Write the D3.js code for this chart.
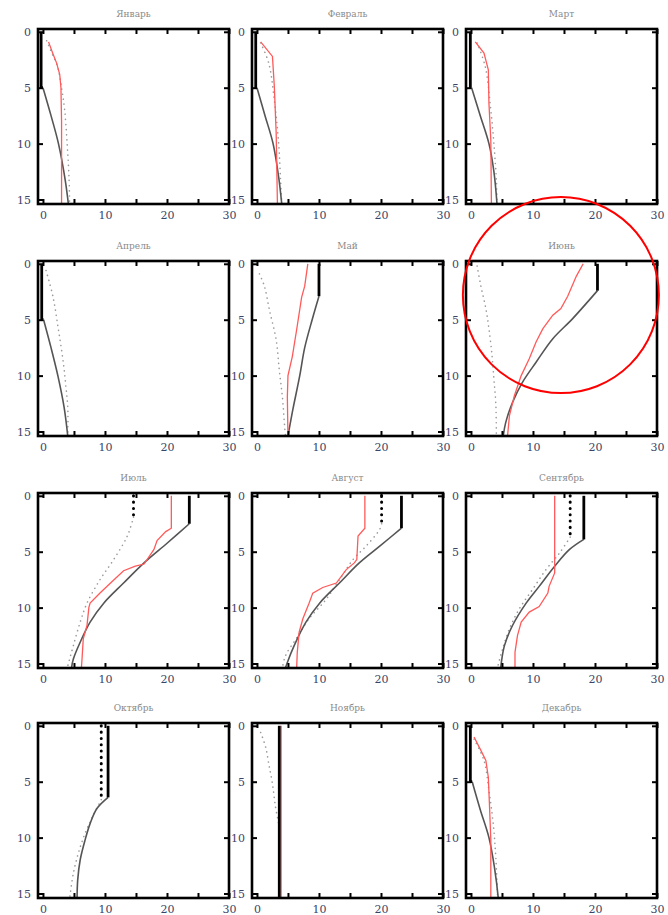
<!DOCTYPE html>
<html>
<head>
<meta charset="utf-8">
<script src="https://cdn.jsdelivr.net/npm/d3@7"></script>
<style>
  html, body { margin: 0; padding: 0; background: #fff; }
  svg { display: block; }
</style>
</head>
<body>
<svg id="chart" width="668" height="915"></svg>
<script>
// ---------------- DATA ----------------
const months = ["Январь","Февраль","Март","Апрель","Май","Июнь",
                "Июль","Август","Сентябрь","Октябрь","Ноябрь","Декабрь"];
const xTickValues = [0, 5, 10, 15, 20, 25, 30];
const xTickLabels = [0, 10, 20, 30];
const depthTickValues = [0, 5, 10, 15];

// model 1 (solid black): [temperature, depth]
const solidProfiles = [
  [[-0.3,0],[-0.3,5],[0,5],[1.3,7.5],[2.5,10],[3.6,13.3],[4.1,15.4]],
  [[-0.2,0],[-0.2,5],[0,5],[1.3,7.5],[2.6,10],[3.5,13],[4.0,15.4]],
  [[-0.1,0],[-0.1,5],[0.1,5],[1.5,7.5],[2.9,10],[3.7,12.5],[4.2,15.4]],
  [[-0.2,0],[-0.2,5],[0.1,5],[1.3,7.5],[2.4,10],[3.4,12.8],[4.0,15.4]],
  [[10,0],[10,2.9],[8.9,5],[7.7,7.5],[6.9,10],[5.8,13],[5.0,15.4]],
  [[20.4,0],[20.4,2.4],[16.4,4.9],[13.2,6.7],[10.5,8.8],[8.3,10.6],[6.7,12.4],[5.6,14.2],[5.2,15.4]],
  [[23.6,0],[23.6,2.5],[20.1,4.2],[16.3,6],[13,7.8],[9.8,9.6],[7.6,11.3],[6,13.1],[4.9,14.6],[4.6,15.4]],
  [[23.3,0],[23.3,2.9],[19.8,4.5],[16.5,6],[13.3,7.8],[10.1,9.6],[7.9,11.3],[6,13.4],[4.9,14.9],[4.6,15.4]],
  [[18.2,0],[18.2,3.9],[15.9,4.8],[13.5,6.3],[11,8.1],[8.9,9.6],[6.7,11.6],[5.4,13.4],[4.9,14.9],[4.8,15.4]],
  [[10.5,0],[10.5,6.4],[8.7,7.4],[7.6,8.75],[6.8,10.2],[6,12],[5.6,13.8],[5.5,15.4]],
  [[3.6,0],[3.6,15.4]],
  [[-0.1,0],[-0.1,5],[0.2,5],[1.5,7.5],[2.9,10],[3.8,12.7],[4.4,15.4]]
];
// mixed layer depth of model 1 (thick part)
const solidMLD = [5, 5, 5, 5, 2.9, 2.4, 2.5, 2.9, 3.9, 6.4, 15.4, 5];

// model 2 (dotted)
const dottedProfiles = [
  [[0.6,0.8],[1.5,2],[2.3,3],[3.0,5],[3.5,7],[3.9,10],[4.2,13],[4.3,15.4]],
  [[0.6,1.0],[1.9,2.8],[2.8,6.1],[3.5,10],[3.8,13.2],[4.0,15.4]],
  [[1.0,1.0],[2.3,3.1],[3.2,7],[3.7,10],[4.1,13.3],[4.2,15.4]],
  [[0.5,0.6],[1.6,2.9],[2.5,5.9],[3.3,8.9],[3.7,11],[4.0,12.8],[4.0,15.4]],
  [[0.4,0.9],[1.2,2],[2.0,4.1],[3.1,6.8],[3.6,9.5],[4.1,11.9],[4.5,14.8],[4.6,15.4]],
  [[1.0,0.2],[1.6,2],[2.4,4],[2.9,5.8],[3.4,8.2],[3.7,10.3],[4.0,12.4],[4.1,15.4]],
  [[14.6,0],[14.6,1.9],[13.6,3.6],[11.4,5.7],[9.2,7.5],[7.1,9.6],[6,11.3],[4.9,13.4],[4.1,15.0],[3.9,15.4]],
  [[20.1,0],[20.1,2.5],[19.8,3],[17.6,4.5],[15.5,5.7],[13.3,7.5],[11.1,9.3],[8.4,11],[6.3,12.8],[4.6,14.3],[4.1,15.4]],
  [[16,0],[16,3.7],[14.3,5.1],[12.1,6.6],[9.9,8.4],[7.8,10.1],[6.2,11.9],[5.1,13.7],[4.4,15.1],[4.3,15.4]],
  [[9.4,0],[9.4,6.6],[8.2,7.9],[6.8,9.6],[5.7,11.4],[4.9,13.2],[4.4,15],[4.3,15.4]],
  [[0.6,0.6],[1.4,1.9],[1.9,3.4],[2.5,5.2],[3,7.3],[3.5,8.8],[3.6,10],[3.6,15.4]],
  [[0.5,1.2],[2.1,3.1],[2.9,5.8],[3.6,8.8],[4,11.7],[4.3,15.4]]
];
const dottedMLD = [0, 0, 0, 0, 0, 0, 1.9, 2.5, 3.7, 6.6, 0, 0];

// observations (red)
const observedProfiles = [
  [[0.9,0.9],[1.5,1.8],[2.2,2.8],[2.7,3.8],[2.9,5],[3.0,8],[3.0,12],[3.0,15.4]],
  [[0.6,0.9],[2.5,2.2],[2.8,4.9],[3.1,9.1],[3.3,15.4]],
  [[0.7,0.9],[2.1,1.9],[2.8,3.4],[2.9,6.4],[3.2,9.7],[3.3,15.4]],
  [],
  [[8.2,0],[7.7,2],[7.2,3],[6.4,5.9],[5.7,8.3],[5.0,10],[4.9,11.9],[5.0,15.4]],
  [[18.1,0],[17,1.1],[15.6,2.9],[14.5,4],[13.2,4.6],[11.6,5.8],[10.5,7],[9.4,8.5],[8.1,10],[7,11.8],[6.2,13.6],[5.9,15.4]],
  [[20.7,0],[20.7,2.9],[19.8,3.2],[18.4,4],[17.9,4.8],[16.3,6.1],[14.9,6.3],[13,6.7],[10.9,7.8],[9.2,8.7],[7.6,9.6],[7.4,10],[7.1,11.6],[6.5,12.8],[6.3,14.6],[6.2,15.4]],
  [[17.4,0],[17.4,2.9],[16.3,3.6],[16.1,5.7],[15.7,6],[14.4,6.6],[12.8,7.8],[10.6,8.2],[9,8.7],[8.4,9.6],[7.4,11],[6.8,12.2],[6.5,14],[6.4,15.4]],
  [[13.5,0],[13.5,6.9],[12.6,8.1],[12.4,8.7],[11,9.9],[9.4,10.4],[8.1,11.3],[7.5,12.5],[7.1,14],[7.1,15.4]],
  [],
  [[3.9,0],[3.9,15.4]],
  [[0.5,1],[1.6,2.2],[2.4,3.1],[2.8,4.6],[3,7.3],[3.2,10.2],[3.2,15.4]]
];

// highlight annotation (panel index, centre in data units)
const highlightPanel = 5;
const highlightCentre = [14.5, 2.8];

// ---------------- LAYOUT ----------------
const colLeft = [38, 252, 466];
const rowTop = [29, 261, 493, 723];
const panelW = 191, panelH = 175;
const xDomain = [-0.8, 30];
const yDomain = [-0.25, 15.4];

const svg = d3.select("#chart");
const defs = svg.append("defs");

// keep only the deepest point among leading points sharing the first depth
function dropLeadingSameDepth(pts) {
  let k = 0;
  while (k + 1 < pts.length && pts[k + 1][1] === pts[0][1]) k++;
  return pts.slice(k);
}

months.forEach((name, i) => {
  const col = i % 3, row = Math.floor(i / 3);
  const left = colLeft[col], top = rowTop[row];
  const x = d3.scaleLinear().domain(xDomain).range([0, panelW]);
  const y = d3.scaleLinear().domain(yDomain).range([0, panelH]);

  const g = svg.append("g").attr("transform", `translate(${left},${top})`);

  defs.append("clipPath").attr("id", "clip" + i)
    .append("rect").attr("x", 0).attr("y", 0).attr("width", panelW).attr("height", panelH);

  // title
  g.append("text")
    .attr("x", panelW / 2).attr("y", -12)
    .attr("text-anchor", "middle")
    .attr("font-family", "DejaVu Serif, serif")
    .attr("font-size", 9)
    .attr("fill", "#8a8a8a")
    .text(name);

  const plot = g.append("g").attr("clip-path", `url(#clip${i})`);
  const line = d3.line().x(d => x(d[0])).y(d => y(d[1]));
  const smooth = d3.line().x(d => x(d[0])).y(d => y(d[1])).curve(d3.curveCatmullRom.alpha(0.5));

  // dotted model: thin gray below MLD, thick black dots above
  const dp = dottedProfiles[i];
  const dm = dottedMLD[i];
  const dThin = dropLeadingSameDepth(dp.filter(d => d[1] >= dm));
  plot.append("path").datum(dThin)
    .attr("d", smooth).attr("fill", "none")
    .attr("stroke", "#9a9a9a").attr("stroke-width", 1.6)
    .attr("stroke-linecap", "round").attr("stroke-dasharray", "0.1,5");
  if (dm > 0) {
    const dThick = dp.filter(d => d[1] <= dm);
    plot.append("path").datum(dThick)
      .attr("d", line).attr("fill", "none")
      .attr("stroke", "#000").attr("stroke-width", 3)
      .attr("stroke-linecap", "round").attr("stroke-dasharray", "0.1,6.2");
  }

  // solid model
  const sp = solidProfiles[i];
  const sm = solidMLD[i];
  const sThin = dropLeadingSameDepth(sp.filter(d => d[1] >= sm));
  if (sThin.length > 1) {
    plot.append("path").datum(sThin)
      .attr("d", smooth).attr("fill", "none")
      .attr("stroke", "#555").attr("stroke-width", 1.6);
  }

  // observations
  const op = observedProfiles[i];
  if (op.length) {
    plot.append("path").datum(op)
      .attr("d", line).attr("fill", "none")
      .attr("stroke", "#ff5a5a").attr("stroke-width", 1.3);
  }

  const sThick = sp.filter(d => d[1] <= sm);
  plot.append("path").datum(sThick)
    .attr("d", line).attr("fill", "none")
    .attr("stroke", "#000").attr("stroke-width", 2.8);

  // axes
  const fmtX = d => xTickLabels.includes(d) ? d : "";
  const axB = g.append("g").attr("transform", `translate(0,${panelH})`)
    .call(d3.axisBottom(x).tickValues(xTickValues).tickFormat(fmtX)
      .tickSizeInner(-5).tickSizeOuter(0).tickPadding(7));
  const axT = g.append("g")
    .call(d3.axisTop(x).tickValues(xTickValues).tickFormat("")
      .tickSizeInner(-5).tickSizeOuter(0));
  const axL = g.append("g")
    .call(d3.axisLeft(y).tickValues(depthTickValues)
      .tickSizeInner(-5).tickSizeOuter(0).tickPadding(7));
  const axR = g.append("g").attr("transform", `translate(${panelW},0)`)
    .call(d3.axisRight(y).tickValues(depthTickValues).tickFormat("")
      .tickSizeInner(-5).tickSizeOuter(0));
  [axB, axT, axL, axR].forEach(a => {
    a.select(".domain").remove();
    a.selectAll(".tick line").attr("stroke", "#000").attr("stroke-width", 2);
    a.selectAll("text")
      .attr("font-family", "DejaVu Serif, serif")
      .attr("font-size", 11)
      .attr("fill", "#3c4466");
  });

  // frame
  g.append("rect")
    .attr("x", 0).attr("y", 0).attr("width", panelW).attr("height", panelH)
    .attr("fill", "none").attr("stroke", "#000").attr("stroke-width", 2.6);

  if (i === highlightPanel) {
    g.append("circle")
      .attr("cx", x(highlightCentre[0])).attr("cy", y(highlightCentre[1]))
      .attr("r", 98)
      .attr("fill", "none").attr("stroke", "#ff0000").attr("stroke-width", 2);
  }
});
</script>
</body>
</html>
